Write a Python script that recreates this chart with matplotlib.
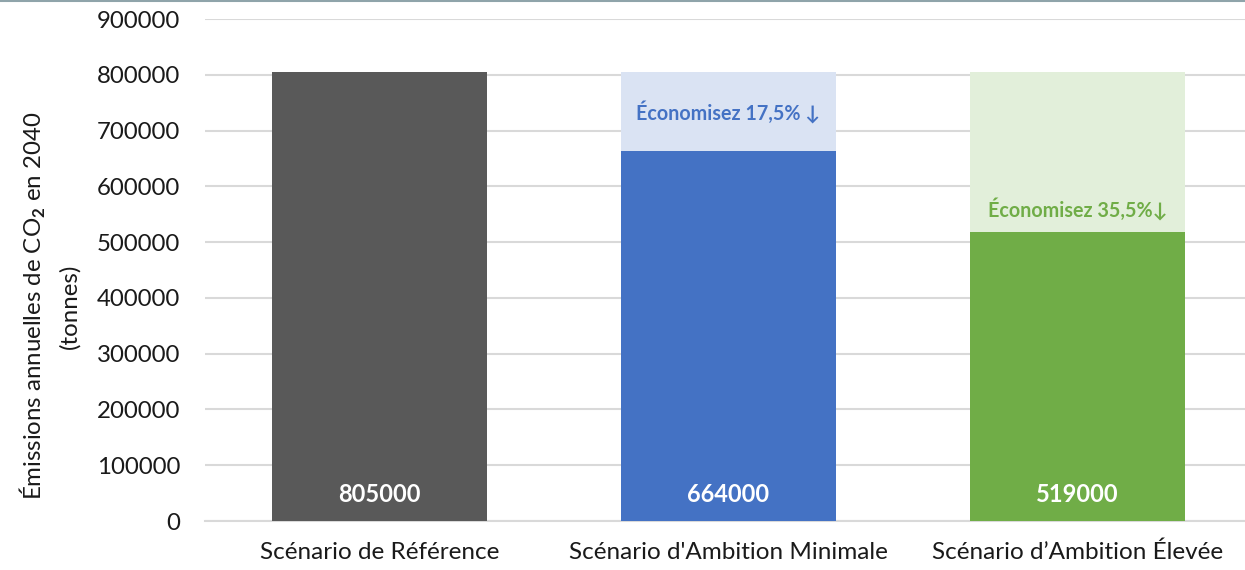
import matplotlib
matplotlib.use("Agg")
import matplotlib.pyplot as plt
from matplotlib.lines import Line2D

plt.rcParams['font.family'] = ['Lato', 'DejaVu Sans']
plt.rcParams['mathtext.fontset'] = 'custom'
plt.rcParams['mathtext.rm'] = 'Lato'
plt.rcParams['mathtext.bf'] = 'Lato:bold'

categories = ["Scénario de Référence", "Scénario d'Ambition Minimale", "Scénario d’Ambition Élevée"]
reference_total = [805000, 805000, 805000]
values = [805000, 664000, 519000]
value_labels = ["805000", "664000", "519000"]
savings_labels = ["", "Économisez 17,5% ↓", "Économisez 35,5%↓"]
savings_label_y = [None, 733000, 559000]
yticks = [0, 100000, 200000, 300000, 400000, 500000, 600000, 700000, 800000, 900000]

bar_colors = ["#595959", "#4472C4", "#70AD47"]
light_colors = ["#595959", "#DAE3F3", "#E2EFDA"]

fig = plt.figure(figsize=(12.45, 5.70), dpi=100)
ax = fig.add_axes([205/1245, 1-521/570, 1047/1245, (521-19)/570])

x = list(range(len(categories)))
width = 0.615
ax.bar(x, reference_total, width=width, color=light_colors, zorder=2)
ax.bar(x, values, width=width, color=bar_colors, zorder=3)

for xi, v, lab in zip(x, values, value_labels):
    ax.text(xi, 48000, lab, ha='center', va='center', color='white',
            fontsize=17, fontweight='bold', zorder=4)

for xi, lab, yy, c in zip(x, savings_labels, savings_label_y, bar_colors):
    if lab:
        ax.text(xi, yy, lab, ha='center', va='center', color=c,
                fontsize=14.2, fontweight='bold', zorder=4,
                family=['Lato', 'DejaVu Sans'])

ax.set_xlim(-0.5, 2.5)
ax.set_ylim(0, 900000)
ax.set_yticks(yticks)
ax.set_yticklabels([str(t) for t in yticks], fontsize=17.3, color='#1a1a1a')
ax.set_xticks(x)
ax.set_xticklabels(categories, fontsize=17.5, color='#1a1a1a')
ax.tick_params(axis='y', length=0, pad=18)
ax.tick_params(axis='x', length=0, pad=15)
ax.yaxis.grid(True, color='#D9D9D9', linewidth=1.5, zorder=0)
ax.set_axisbelow(True)
for s in ['top', 'right', 'left']:
    ax.spines[s].set_visible(False)
ax.spines['bottom'].set_color('#D9D9D9')
ax.spines['bottom'].set_linewidth(1.5)

fig.text(33/1245, 1-306/570, r"Émissions annuelles de CO$_\mathbf{2}$ en 2040",
         rotation=90, ha='center', va='center', fontsize=17.3, color='#1a1a1a')
fig.text(70/1245, 1-306/570, "(tonnes)",
         rotation=90, ha='center', va='center', fontsize=17.3, color='#1a1a1a')

fig.add_artist(Line2D([0, 1], [0.998, 0.998], transform=fig.transFigure,
                      color='#8FA4AA', linewidth=1.5))

fig.savefig("out.png", dpi=100)
